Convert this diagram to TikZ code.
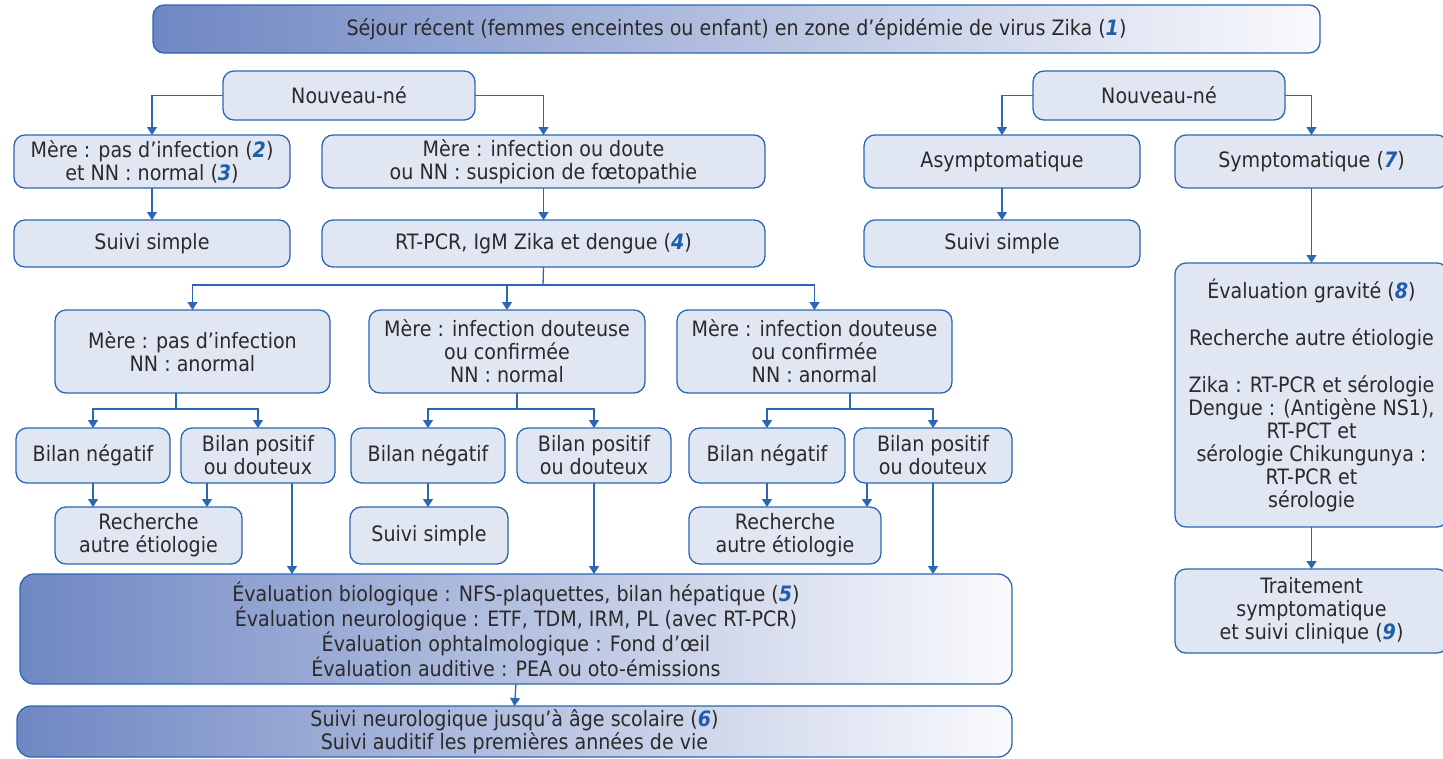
\documentclass[tikz,border=0pt]{standalone}
\usepackage{fontspec}
\setmainfont{DejaVu Sans Condensed}
\usetikzlibrary{arrows.meta,calc}
\definecolor{bordc}{HTML}{2B67B3}
\definecolor{boxf}{HTML}{E1E6F3}
\definecolor{gradL}{HTML}{6F87C3}
\definecolor{gradR}{HTML}{FAFAFD}
\definecolor{numc}{HTML}{1F5FAA}
\definecolor{txtc}{HTML}{2A2A2A}
\newcommand\nb[1]{\textcolor{numc}{\textbf{\textit{#1}}}}
\newcommand\mkbox[6][plainbox]{\node[#1,minimum width={#4-#2},minimum height={#5-#3}] (#6) at ({(#2+#4)/2},{(#3+#5)/2})}
\tikzset{
 plainbox/.style={draw=bordc, line width=1.3pt, fill=boxf, rounded corners=11pt, align=center, inner sep=0pt, outer sep=0pt, text=txtc, font=\fontsize{21.2}{23}\selectfont},
 gradbox/.style={plainbox, left color=gradL, right color=gradR},
 link/.style={draw=bordc, line width=1.3pt},
 arr/.style={link, -{Triangle[width=10pt,length=8pt]}},
}
\begin{document}
\begin{tikzpicture}[x=1pt,y=-1pt]
\useasboundingbox (0,0) rectangle (1443,758);
% top
\mkbox[gradbox]{153}{5}{1320}{53}{top}{Séjour récent (femmes enceintes ou enfant) en zone d’épidémie de virus Zika (\nb{1})};
% left part
\mkbox{223}{71}{475}{120}{nnL}{Nouveau-né};
\mkbox{14}{135}{290}{188}{m1}{Mère : pas d’infection (\nb{2})\\et NN : normal (\nb{3})};
\mkbox{322}{135}{765}{188}{m2}{Mère : infection ou doute\\ou NN : suspicion de fœtopathie};
\mkbox{14}{220}{290}{267}{s1}{Suivi simple};
\mkbox{322}{220}{765}{267}{rt}{RT-PCR, IgM Zika et dengue (\nb{4})};
\mkbox{55}{310}{330}{393}{b1}{Mère : pas d’infection\\NN : anormal};
\mkbox{369}{310}{645}{393}{b2}{Mère : infection douteuse\\ou confirmée\\NN : normal};
\mkbox{677}{310}{952}{393}{b3}{Mère : infection douteuse\\ou confirmée\\NN : anormal};
\mkbox{16}{428}{170}{483}{n1}{Bilan négatif};
\mkbox{181}{428}{335}{483}{p1}{Bilan positif\\ou douteux};
\mkbox{351}{428}{505}{483}{n2}{Bilan négatif};
\mkbox{517}{428}{671}{483}{p2}{Bilan positif\\ou douteux};
\mkbox{689}{428}{845}{483}{n3}{Bilan négatif};
\mkbox{854}{428}{1012}{483}{p3}{Bilan positif\\ou douteux};
\mkbox{55}{507}{242}{564}{r1}{Recherche\\autre étiologie};
\mkbox{350}{507}{508}{564}{s2}{Suivi simple};
\mkbox{689}{507}{881}{564}{r3}{Recherche\\autre étiologie};
\mkbox[gradbox,rounded corners=14pt]{20}{574}{1012}{684}{ev}{Évaluation biologique : NFS-plaquettes, bilan hépatique (\nb{5})\\Évaluation neurologique : ETF, TDM, IRM, PL (avec RT-PCR)\\Évaluation ophtalmologique : Fond d’œil\\Évaluation auditive : PEA ou oto-émissions};
\mkbox[gradbox,rounded corners=14pt]{17}{706}{1012}{757}{sn}{Suivi neurologique jusqu’à âge scolaire (\nb{6})\\Suivi auditif les premières années de vie};
% right part
\mkbox{1033}{71}{1285}{120}{nnR}{Nouveau-né};
\mkbox{864}{135}{1140}{188}{asy}{Asymptomatique};
\mkbox{1175}{135}{1448}{188}{sym}{Symptomatique (\nb{7})};
\mkbox{864}{220}{1140}{267}{sr}{Suivi simple};
\mkbox{1175}{263}{1448}{527}{eg}{Évaluation gravité (\nb{8})\\[24pt]Recherche autre étiologie\\[24pt]Zika : RT-PCR et sérologie\\Dengue : (Antigène NS1),\\RT-PCT et\\sérologie Chikungunya :\\RT-PCR et\\sérologie};
\mkbox{1175}{569}{1448}{653}{tr}{Traitement\\symptomatique\\et suivi clinique (\nb{9})};
% junction coordinates
\coordinate (j0) at (543,285);
\coordinate (k1) at (176,409);
\coordinate (k2) at (517,409);
\coordinate (k3) at (850,409);
\coordinate (x207) at (207,0);
\coordinate (x292) at (292,0);
\coordinate (x867) at (867,0);
% connectors left
\draw[arr] (nnL.west) -| (m1.north);
\draw[arr] (nnL.east) -| (m2.north);
\draw[arr] (m1.south) -- (s1.north);
\draw[arr] (m2.south) -- (rt.north);
\draw[link] (rt.south) -- (j0);
\draw[arr] (j0) -| (b1.north);
\draw[arr] (j0) -| (b2.north);
\draw[arr] (j0) -| (b3.north);
\draw[link] (b1.south -| k1) -- (k1);
\draw[arr] (k1) -| (n1.north);
\draw[arr] (k1) -| (p1.north);
\draw[link] (b2.south -| k2) -- (k2);
\draw[arr] (k2) -| (n2.north);
\draw[arr] (k2) -| (p2.north);
\draw[link] (b3.south -| k3) -- (k3);
\draw[arr] (k3) -| (n3.north);
\draw[arr] (k3) -| (p3.north);
\draw[arr] (n1.south) -- (n1.south |- r1.north);
\draw[arr] (p1.south -| x207) -- (r1.north -| x207);
\draw[arr] (p1.south -| x292) -- (ev.north -| x292);
\draw[arr] (n2.south) -- (n2.south |- s2.north);
\draw[arr] (p2.south) -- (p2.south |- ev.north);
\draw[arr] (n3.south) -- (n3.south |- r3.north);
\draw[arr] (p3.south -| x867) -- (r3.north -| x867);
\draw[arr] (p3.south) -- (p3.south |- ev.north);
\draw[arr] (ev.south) -- (sn.north);
% connectors right
\draw[arr] (nnR.west) -| (asy.north);
\draw[arr] (nnR.east) -| (sym.north);
\draw[arr] (asy.south) -- (sr.north);
\draw[arr] (sym.south) -- (eg.north);
\draw[arr] (eg.south) -- (tr.north);
\end{tikzpicture}
\end{document}
